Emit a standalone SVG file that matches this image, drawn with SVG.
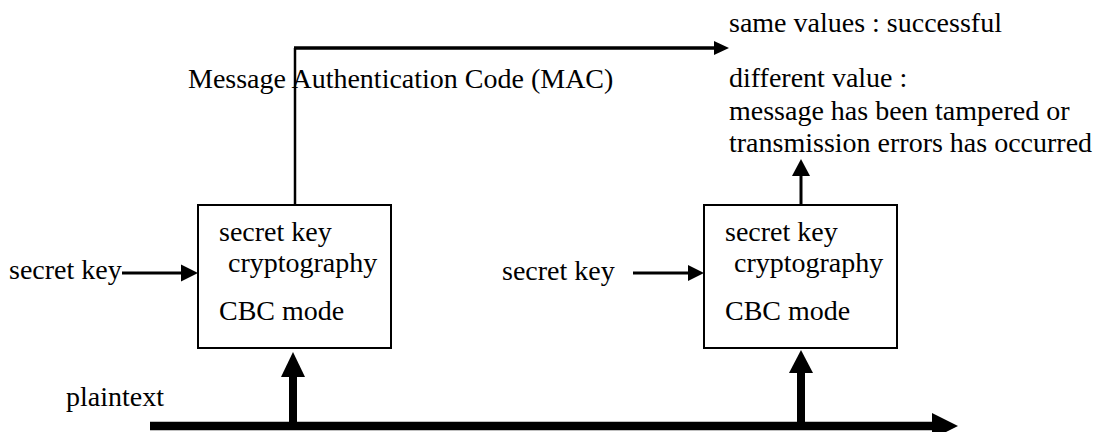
<svg xmlns="http://www.w3.org/2000/svg" width="1095" height="432" viewBox="0 0 1095 432">
<style>
text{font-family:"Liberation Serif","Times New Roman",serif;font-size:28px;fill:#000}
.box{fill:#fff;stroke:#000;stroke-width:2}
.ln{fill:none;stroke:#000}
.hd{fill:#000;stroke:none}
</style>
<rect width="1095" height="432" fill="#fff"/>
<g id="connectors">
<path class="ln" d="M295,205 V48" stroke-width="2.5"/>
<path class="ln" d="M294,48 H716" stroke-width="3.5"/>
<polygon class="hd" points="714,41 729,48 714,55"/>
<path class="ln" d="M122,273 H184" stroke-width="3"/>
<polygon class="hd" points="181,264.5 198,273 181,281.5"/>
<path class="ln" d="M633,273 H690" stroke-width="3"/>
<polygon class="hd" points="688,265 704,273 688,281"/>
<path class="ln" d="M801,205 V174" stroke-width="3"/>
<polygon class="hd" points="792,176 801,159 810,176"/>
<path class="ln" d="M150,426 H935" stroke-width="8.5"/>
<polygon class="hd" points="932,413 958,426 932,439"/>
<path class="ln" d="M293,426 V374" stroke-width="8"/>
<polygon class="hd" points="281,377 293,352 305,377"/>
<path class="ln" d="M801,426 V371" stroke-width="8"/>
<polygon class="hd" points="789,373 801,350 813,373"/>
</g>
<g id="box1">
<rect class="box" x="198" y="205" width="193" height="143"/>
<text x="219" y="241">secret key</text>
<text x="228" y="272">cryptography</text>
<text x="219" y="320">CBC mode</text>
</g>
<g id="box2">
<rect class="box" x="704" y="205" width="193" height="143"/>
<text x="725" y="241">secret key</text>
<text x="734" y="272">cryptography</text>
<text x="725" y="320">CBC mode</text>
</g>
<g id="key1"><text x="9" y="279">secret key</text></g>
<g id="key2"><text x="502" y="280">secret key</text></g>
<g id="plaintext"><text x="66" y="406">plaintext</text></g>
<g id="mac"><text x="188" y="88">Message Authentication Code (MAC)</text></g>
<g id="success"><text x="729" y="32">same values : successful</text></g>
<g id="failure">
<text x="729" y="87">different value :</text>
<text x="729" y="120">message has been tampered or</text>
<text x="729" y="152">transmission errors has occurred</text>
</g>
</svg>
